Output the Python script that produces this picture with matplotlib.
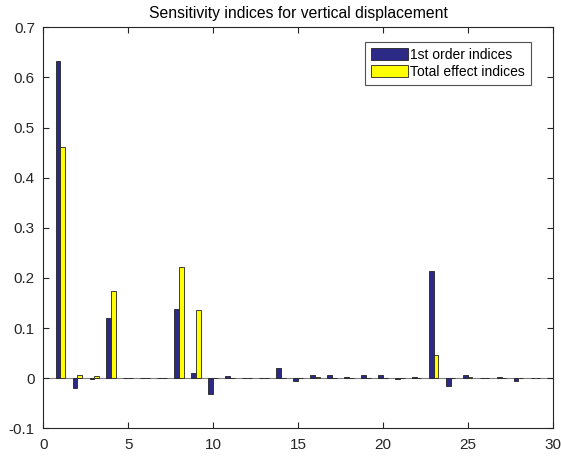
import matplotlib
matplotlib.use("Agg")
import matplotlib.pyplot as plt
import numpy as np

plt.rcParams['font.family'] = ['Liberation Sans', 'DejaVu Sans']

params = list(range(1, 30))
first_order = [0.632, -0.019, -0.002, 0.120, 0.001, 0.001, 0.001, 0.139, 0.010, -0.032,
               0.005, 0.001, 0.001, 0.020, -0.006, 0.006, 0.006, 0.002, 0.006, 0.007,
               -0.002, 0.002, 0.214, -0.016, 0.007, 0.001, 0.002, -0.005, 0.001]
total_effect = [0.461, 0.006, 0.005, 0.173, 0.001, 0.001, 0.001, 0.222, 0.136, 0.001,
                0.001, 0.001, 0.001, 0.001, 0.001, 0.002, 0.001, 0.001, 0.001, 0.001,
                0.001, 0.001, 0.046, 0.001, 0.002, 0.001, 0.001, 0.001, 0.001]
xticks = [0, 5, 10, 15, 20, 25, 30]
yticks = [-0.1, 0, 0.1, 0.2, 0.3, 0.4, 0.5, 0.6, 0.7]
ytick_labels = ['-0.1', '0', '0.1', '0.2', '0.3', '0.4', '0.5', '0.6', '0.7']

fig = plt.figure(figsize=(5.61, 4.58), dpi=100)
ax = fig.add_axes([0.0772, 0.0648, 0.9078, 0.8756])

x = np.array(params, dtype=float)
off = 0.143
w = 0.27
ax.axhline(0, color='#808080', linewidth=0.8, zorder=1)
ax.bar(x - off, first_order, width=w, color='#2d2a87', edgecolor='#222222',
       linewidth=0.6, label='1st order indices', zorder=2)
ax.bar(x + off, total_effect, width=w, color='#ffff00', edgecolor='#222222',
       linewidth=0.6, label='Total effect indices', zorder=2)

ax.set_xlim(0, 30)
ax.set_ylim(-0.1, 0.7)
ax.set_xticks(xticks)
ax.set_yticks(yticks)
ax.set_yticklabels(ytick_labels)
ax.tick_params(direction='in', top=True, right=True, labelsize=11, length=4,
               width=0.8, color='#262626', labelcolor='#262626')
ax.tick_params(axis='x', pad=7)
ax.tick_params(axis='y', pad=6)
for s in ax.spines.values():
    s.set_linewidth(0.8)
    s.set_color('#262626')

ax.set_title('Sensitivity indices for vertical displacement', fontsize=11.3, pad=7)

leg = ax.legend(loc='upper right', bbox_to_anchor=(0.958, 0.964), fontsize=10,
                frameon=True, fancybox=False, edgecolor='#262626',
                handlelength=2.65, handleheight=0.95, handletextpad=0.15,
                borderpad=0.45, labelspacing=0.22, borderaxespad=0)
leg.get_frame().set_linewidth(0.8)

fig.savefig('out.png', dpi=100)
